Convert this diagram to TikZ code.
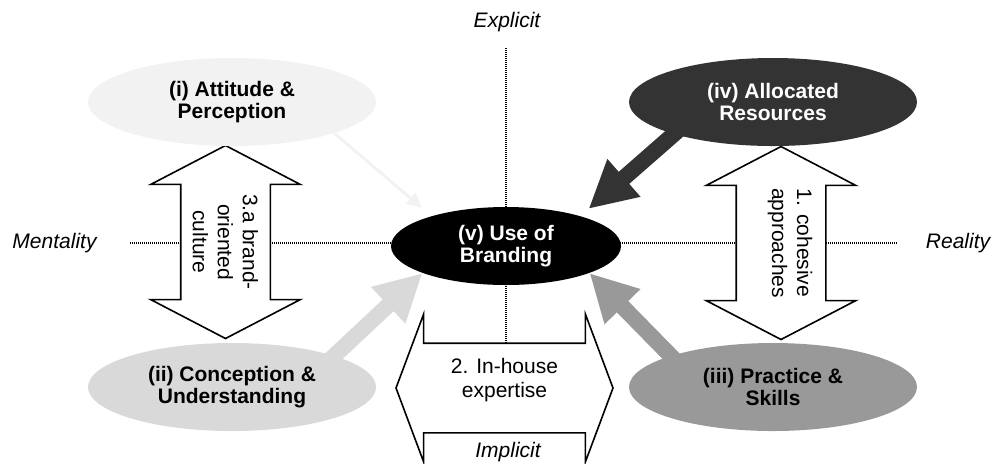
\documentclass[tikz,border=0pt]{standalone}
\usepackage{fontspec}
\setmainfont{Liberation Sans}
\usetikzlibrary{shapes.geometric,shapes.arrows,arrows.meta}

\begin{document}
\begin{tikzpicture}[x=0.5pt,y=-0.5pt,
  every node/.style={font=\fontsize{10.5}{12}\selectfont},
  bubble/.style={ellipse,minimum width=144pt,minimum height=44pt,inner sep=0pt,align=center,font=\bfseries\fontsize{10.5}{11.3}\selectfont},
  axis/.style={line width=0.75pt,dash pattern=on 0.5pt off 0.5pt},
  twoway/.style={double arrow,draw,fill=white,line width=0.8pt,inner xsep=0pt,inner ysep=22pt},
  upright/.style={twoway,rotate=-90,minimum height=96.5pt,minimum width=74pt,double arrow head extend=15pt,double arrow tip angle=125},
  along/.style={rotate=-90,align=center,font=\fontsize{10.5}{12.5}\selectfont},
  feed/.style={line width=8pt,-{Triangle[width=23.5pt,length=23.5pt]},shorten <=-4pt}]
\useasboundingbox (0,0) rectangle (995,463);
\clip (0,0) rectangle (995,463);
\coordinate (axN) at (506,48);
\coordinate (axS) at (506,344);
\coordinate (axW) at (130,243);
\coordinate (axE) at (898,243);
\draw[axis] (axW) -- (axE);
\draw[axis] (axN) -- (axS);
\node (explicit) at (507,22) {\itshape Explicit};
\node (mentality) at (54.5,243) {\itshape Mentality};
\node (reality) at (958,243) {\itshape Reality};
% the three two-way arrows
\node[upright] (culture) at (225.5,242) {};
\node[upright] (cohesive) at (781,243) {};
\node[twoway,minimum height=108.5pt,minimum width=73pt,double arrow head extend=14.5pt,double arrow tip angle=139] (inhouse) at (504.5,388) {};
\node[along] (culturetxt) at (culture) {3.a brand-\\oriented\\culture};
\node[along] (cohesivetxt) at ([xshift=4.5pt]cohesive.center) {1. cohesive\\approaches};
\node[align=center] (inhousetxt) at ([yshift=4pt]inhouse.center) {2. In-house\\expertise};
\node (implicit) at (508,452) {\itshape Implicit};
% the five dimensions
\node[bubble,fill=gray!10] (attitude) at (232,102) {(i) Attitude \&\\Perception};
\node[bubble,fill=gray!30] (conception) at (232,387) {(ii) Conception \&\\Understanding};
\node[bubble,fill=gray!80] (practice) at (773,387) {(iii) Practice \&\\Skills};
\node[bubble,fill=black!80,text=white] (resources) at (773,102) {(iv) Allocated\\Resources};
\node[bubble,fill=black,text=white,minimum width=115pt,minimum height=39pt] (branding) at (506,246) {(v) Use of\\Branding};
\draw[gray!10,line width=1.5pt,-{Triangle[width=7pt,length=7.5pt]},shorten >=6.25pt] (attitude.343) -- (branding.158);
\draw[feed,black!80,shorten >=5.4pt] (resources.198) -- (branding.22);
\draw[feed,gray!30] (conception.17) -- (branding.198);
\draw[feed,gray!80] (practice.163) -- (branding.342);
\end{tikzpicture}
\end{document}
